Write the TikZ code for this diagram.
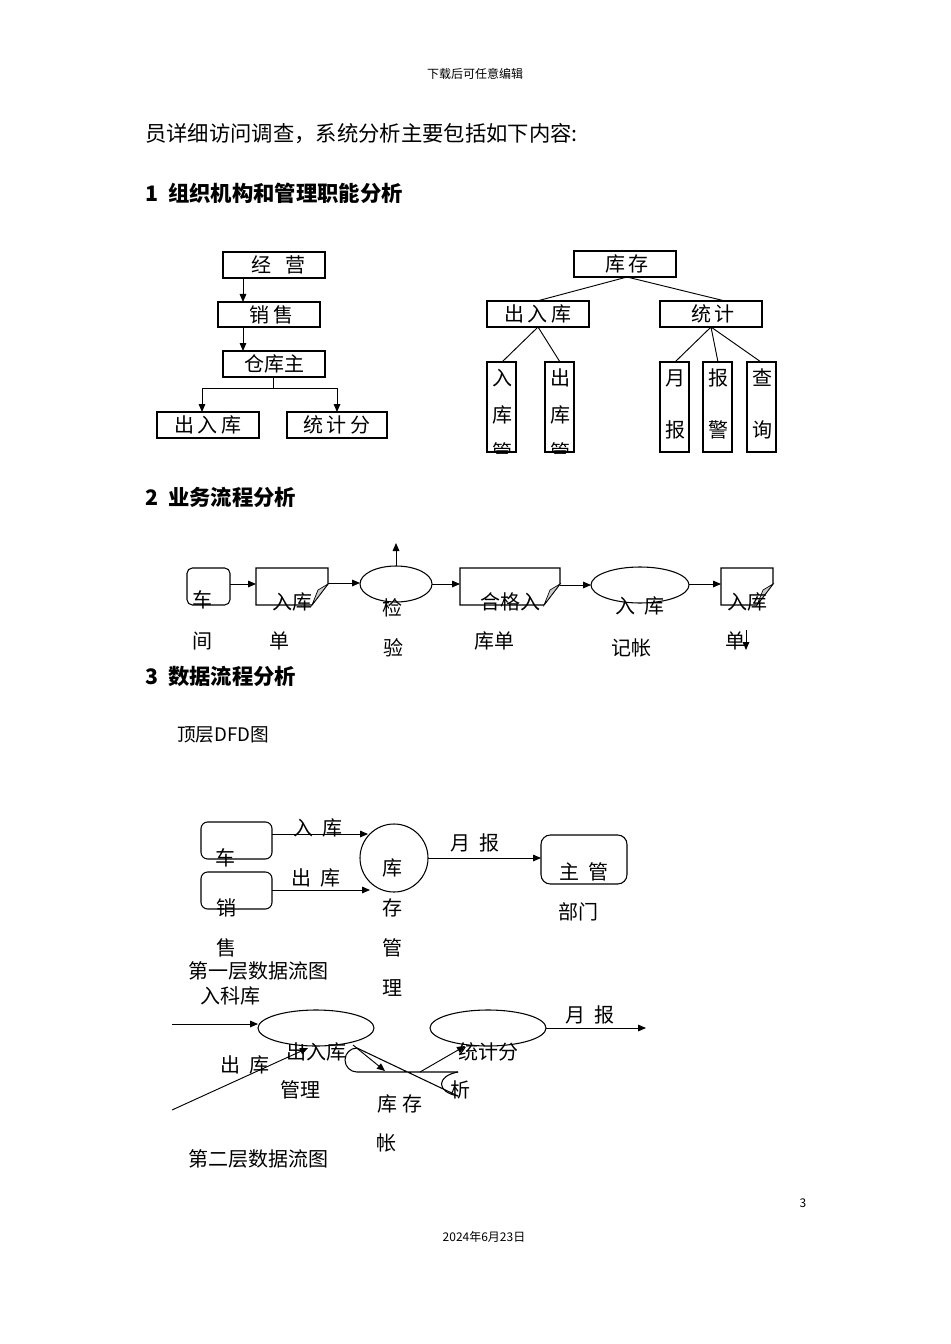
\documentclass[tikz,border=0pt]{standalone}
\usepackage{fontspec}
\setmainfont{Noto Sans CJK SC}
\usetikzlibrary{arrows.meta}
\begin{document}
\begin{tikzpicture}[x=0.75pt,y=-0.75pt,
  t/.style={inner sep=0,font=\fontsize{15}{15}\selectfont},
  h/.style={inner sep=0,anchor=west,font=\fontsize{16}{16}\selectfont},
  sm/.style={inner sep=0,font=\fontsize{9}{9}\selectfont},
  bx/.style={draw,line width=0.8pt},
  ln/.style={line width=0.7pt},
  ar/.style={line width=0.7pt,-{Triangle[length=6pt,width=5pt]}}]
\useasboundingbox[fill=white] (0,0) rectangle (950,1344);
\node[sm] (hdr) at (475,74) {下载后可任意编辑};
\node[h] (l1) at (145,134) {员详细访问调查，系统分析主要包括如下内容:};
\node[h,font=\fontsize{16}{16}\selectfont\bfseries] (s1) at (145,193) {1\ \ 组织机构和管理职能分析};
% left org chart
\draw[bx] (223,252) rectangle (325,278) node[t,midway] (jy) {\ \ 经\ \ \ 营};
\draw[bx] (218,302) rectangle (320,327) node[t,midway] (xs) {\ 销\ 售};
\draw[bx] (223,351) rectangle (325,377) node[t,midway] (ck) {仓库主};
\draw[ar] (243,278) -- (243,302);
\draw[ar] (243,327) -- (243,351);
\draw[ln] (273,377) -- (273,388);
\draw[ar] (202,388) -- (337,388) (202,388) -- (202,412);
\draw[ar] (337,388) -- (337,412);
\draw[bx] (157,412) rectangle (259,438) node[t,midway] (crk) {出\,入\,库};
\draw[bx] (287,412) rectangle (387,438) node[t,midway] (tjf) {统\,计\,分};
% right org chart
\draw[bx] (574,251) rectangle (676,277) node[t,midway] (kc) {\ 库\,存};
\draw[bx] (487,301) rectangle (589,327) node[t,midway] (crk2) {出\,入\,库};
\draw[bx] (660,301) rectangle (762,327) node[t,midway] (tj) {\ 统\,计};
\draw[ln] (627,277) -- (537,301) (627,277) -- (725,301);
\draw[ln] (538,327) -- (502,362) (538,327) -- (560,362);
\draw[ln] (711,327) -- (675,362) (711,327) -- (718,362) (711,327) -- (761,362);
\foreach \x/\a/\b/\c/\n in {487/入/库/管/r1,545/出/库/管/r2}{
 \begin{scope}\clip (\x-1,361) rectangle (\x+31,453);
 \draw[bx] (\x,362) rectangle (\x+29,452);
 \node[t] (\n a) at (\x+15,378) {\a};
 \node[t] (\n b) at (\x+15,415) {\b};
 \node[t] (\n c) at (\x+15,452) {\c};
 \end{scope}}
\foreach \x/\a/\b/\n in {660/月/报/r3,703/报/警/r4,747/查/询/r5}{
 \draw[bx] (\x,362) rectangle (\x+29,452);
 \node[t] (\n a) at (\x+15,378) {\a};
 \node[t] (\n b) at (\x+15,430) {\b};}
% section 2
\node[h,font=\fontsize{16}{16}\selectfont\bfseries] (s2) at (145,497) {2\ \ 业务流程分析};
\draw[bx,rounded corners=4pt] (187,568) rectangle (230,605);
\node[t] (cj1) at (202,600) {车}; \node[t] (cj2) at (202,641) {间};
\draw[ar] (230,584) -- (256,584);
\foreach \a/\b/\n in {256/328/d1,460/560/d2,721/773/d3}{
 \draw[bx] (\a,568) -- (\b,568) -- (\b,584) -- (\b-16,605) -- (\a,605) -- cycle;
 \fill[gray!40,draw=black,line width=0.5pt] (\b,584) -- (\b-16,605) -- (\b-10,590) -- cycle;}
\node[t] (rk1) at (292,602) {入库}; \node[t] (rk2) at (279,641) {单};
\draw[ar] (328,583) -- (360,583);
\draw[bx] (396,584) ellipse (36 and 18);
\draw[ar] (396,566) -- (396,543);
\node[t] (jy1) at (392,608) {检}; \node[t] (jy2) at (393,648) {验};
\draw[ar] (432,584) -- (460,584);
\node[t] (hg1) at (510,602) {合格入}; \node[t] (hg2) at (494,641) {库单};
\draw[ar] (560,585) -- (591,585);
\draw[bx] (640,585) ellipse (49 and 18);
\node[t] (jz1) at (640,606) {入\ \ 库}; \node[t] (jz2) at (631,648) {记帐};
\draw[ar] (689,584) -- (721,584);
\node[t] (rd1) at (747,602) {入库}; \node[t] (rd2) at (735,641) {单};
\draw[ar] (746,630) -- (746,650);
% section 3
\node[h,font=\fontsize{16}{16}\selectfont\bfseries] (s3) at (145,676) {3\ \ 数据流程分析};
\node[h,font=\fontsize{14}{14}\selectfont] (dfd0) at (177,735) {顶层DFD图};
\draw[bx,rounded corners=5pt] (201,822) rectangle (272,859);
\draw[bx,rounded corners=5pt] (201,872) rectangle (272,909);
\node[t] (e1) at (225,858) {车};
\node[t] (e2) at (226,908) {销}; \node[t] (e3) at (226,948) {售};
\draw[ar] (272,834) -- (368,834);
\node[t] (la) at (318,828) {入\ \ 库};
\draw[ar] (272,890) -- (370,890);
\node[t] (lb) at (316,878) {出\ \ 库};
\draw[bx] (394,858) circle (34);
\node[t] (p1) at (392,868) {库}; \node[t] (p2) at (392,908) {存};
\node[t] (p3) at (392,948) {管}; \node[t] (p4) at (392,988) {理};
\draw[ar] (428,858) -- (541,858);
\node[t] (lc) at (475,843) {月\ \ 报};
\draw[bx,rounded corners=7pt] (541,835) rectangle (627,884);
\node[t] (zg) at (584,872) {主\ \ 管}; \node[t] (bm) at (578,912) {部门};
\node[t] (c1) at (258,971) {第一层数据流图};
% second level
\node[t] (rkl) at (230,996) {入科库};
\draw[ar] (172,1024) -- (258,1024);
\draw[bx] (316,1028) ellipse (58 and 18);
\node[t] (q1) at (316,1052) {出入库}; \node[t] (q2) at (300,1090) {管理};
\node[t] (ckl) at (245,1065) {出\ \ 库};
\draw[ar] (172,1110) -- (308,1048);
\draw[ar] (353,1045) -- (385,1071);
\draw[bx] (458,1072) -- (357,1072) arc (90:270:12) -- (458,1096);
\draw[bx] (458,1072) .. controls (436,1076) and (436,1092) .. (458,1096);
\node[t] (s1a) at (400,1104) {库\ 存}; \node[t] (s1b) at (386,1143) {帐};
\draw[ar] (420,1072) -- (465,1046);
\draw[bx] (488,1028) ellipse (58 and 18);
\node[t] (w1) at (488,1052) {统计分}; \node[t] (w2) at (460,1090) {析};
\draw[ar] (546,1028) -- (646,1028);
\node[t] (ld) at (590,1015) {月\ \ 报};
\node[t] (c2) at (258,1159) {第二层数据流图};
\node[sm] (pg) at (803,1203) {3};
\node[sm] (dt) at (484,1237) {2024年6月23日};
\end{tikzpicture}
\end{document}
